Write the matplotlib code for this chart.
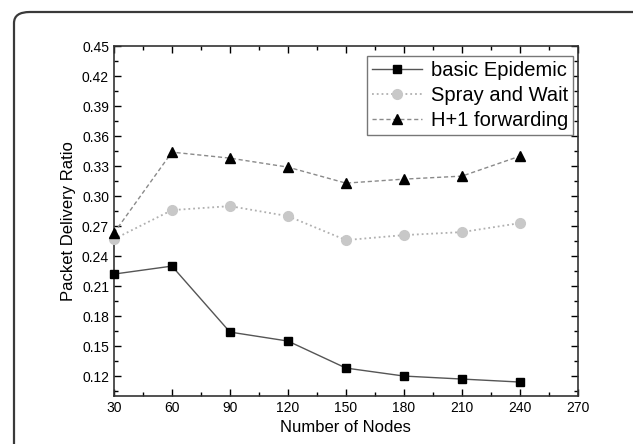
import matplotlib
matplotlib.use('Agg')
import matplotlib.pyplot as plt
from matplotlib.patches import FancyBboxPatch
from matplotlib.ticker import MultipleLocator, FormatStrFormatter

plt.rcParams['font.family'] = ['Liberation Sans', 'DejaVu Sans']

nodes = [30, 60, 90, 120, 150, 180, 210, 240]
epidemic = [0.222, 0.230, 0.164, 0.155, 0.128, 0.120, 0.117, 0.114]
spray_wait = [0.257, 0.286, 0.290, 0.280, 0.256, 0.261, 0.264, 0.273]
h1_forward = [0.263, 0.344, 0.338, 0.329, 0.313, 0.317, 0.320, 0.340]

fig = plt.figure(figsize=(6.33, 4.44), dpi=100)

# rounded frame around the figure (runs off right and bottom)
frame = FancyBboxPatch((14 / 633, -0.1), 1.2, 1.1 - 12 / 444,
                       boxstyle="round,pad=0,rounding_size=0.025",
                       transform=fig.transFigure, facecolor='none',
                       edgecolor='#3a3a3a', linewidth=1.6)
fig.patches.append(frame)

ax = fig.add_axes([0.180, 0.108, 0.733, 0.788])

ax.plot(nodes, epidemic, color='#555555', linestyle='-', linewidth=1.0,
        marker='s', markersize=6, markerfacecolor='black', markeredgecolor='black',
        label='basic Epidemic', clip_on=False, zorder=3)
ax.plot(nodes, spray_wait, color='#b0b0b0', linestyle=':', linewidth=1.3,
        marker='o', markersize=7, markerfacecolor='#c8c8c8', markeredgecolor='#c8c8c8',
        label='Spray and Wait', clip_on=False, zorder=3)
ax.plot(nodes, h1_forward, color='#8a8a8a', linestyle=(0, (3, 2)), linewidth=1.0,
        marker='^', markersize=7, markerfacecolor='black', markeredgecolor='black',
        label='H+1 forwarding', clip_on=False, zorder=3)

ax.set_xlim(30, 270)
ax.set_ylim(0.10, 0.45)
ax.xaxis.set_major_locator(MultipleLocator(30))
ax.xaxis.set_minor_locator(MultipleLocator(15))
ax.yaxis.set_minor_locator(MultipleLocator(0.015))
ax.yaxis.set_major_formatter(FormatStrFormatter('%.2f'))
ax.set_yticks([0.12, 0.15, 0.18, 0.21, 0.24, 0.27, 0.30, 0.33, 0.36, 0.39, 0.42, 0.45])

ax.tick_params(which='both', direction='in', top=True, right=True, labelsize=10)
ax.tick_params(which='major', length=5, width=1)
ax.tick_params(which='minor', length=3, width=1)
for s in ax.spines.values():
    s.set_linewidth(1.2)
    s.set_color('#333333')

ax.set_xlabel('Number of Nodes', fontsize=12, labelpad=4)
ax.set_ylabel('Packet Delivery Ratio', fontsize=12, labelpad=4)

leg = ax.legend(loc='upper right', bbox_to_anchor=(0.989, 0.971), fontsize=14.5,
                fancybox=False, framealpha=1, edgecolor='#777777',
                handlelength=2.5, borderpad=0.25, labelspacing=0.28,
                handletextpad=0.4, borderaxespad=0)
leg.get_frame().set_linewidth(1.0)

fig.savefig('out.png', dpi=100)
